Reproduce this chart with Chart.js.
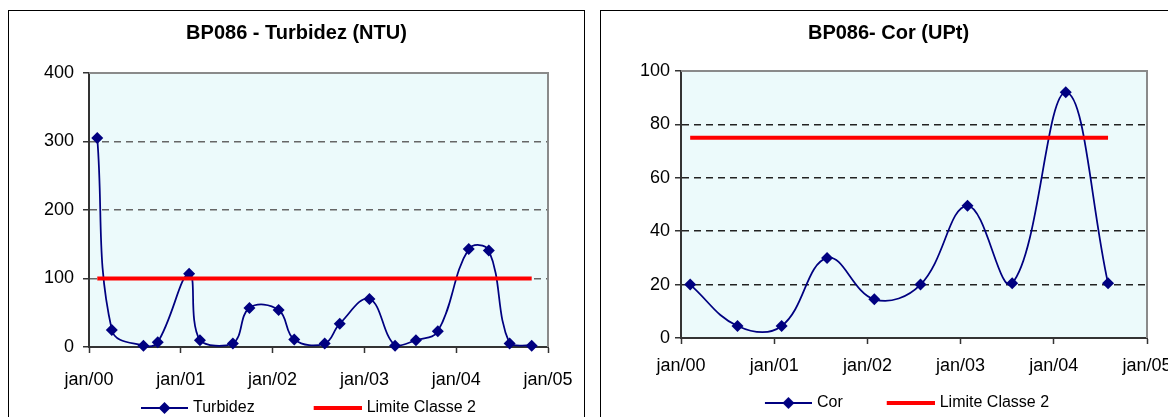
<!DOCTYPE html>
<html>
<head>
<meta charset="utf-8">
<script src="https://cdn.jsdelivr.net/npm/chart.js@4.4.1/dist/chart.umd.min.js"></script>
<style>
  html, body { margin: 0; padding: 0; background: #fff; overflow: hidden; width: 1168px; height: 417px; }
  .box { position: absolute; top: 10px; border: 1px solid #000; background: #fff; }
  .box canvas { display: block; }
</style>
</head>
<body>
<div class="box" style="left:8px; width:575px; height:420px;">
  <canvas id="chartTurbidez" width="575" height="415" style="width:575px;height:415px;"></canvas>
</div>
<div class="box" style="left:600px; width:575px; height:420px;">
  <canvas id="chartCor" width="575" height="410" style="width:575px;height:410px;"></canvas>
</div>
<script>
// dados - turbidez
const turbDates = ["2000-02-03", "2000-04-01", "2000-08-05", "2000-10-01", "2001-02-03", "2001-03-18",
    "2001-07-27", "2001-10-01", "2002-01-25", "2002-03-28", "2002-07-27", "2002-09-25",
    "2003-01-21", "2003-05-03", "2003-07-25", "2003-10-20", "2004-02-20", "2004-05-10",
    "2004-08-01", "2004-10-28"];
const turbValues = [305, 25, 2, 7, 107, 10, 5, 57, 54, 11, 5, 34, 70, 2, 10, 23, 143, 141, 5, 2];
const turbLimit = 100;
const turbTicks = [0, 100, 200, 300, 400];

// dados - cor
const corDates = ["2000-02-06", "2000-08-10", "2001-01-30", "2001-07-27", "2002-01-28",
    "2002-07-28", "2003-01-28", "2003-07-22", "2004-02-17", "2004-08-01"];
const corValues = [20, 4.5, 4.5, 30, 14.5, 20, 49.5, 20.5, 92, 20.5];
const corLimit = 75;
const corTicks = [0, 20, 40, 60, 80, 100];

const yearTicks = [2000, 2001, 2002, 2003, 2004, 2005];

Chart.defaults.font.family = 'Arial, "Liberation Sans", sans-serif';
Chart.defaults.color = "#000";

// data -> ano decimal
function toYear(s) {
    const p = s.split("-").map(Number);
    const start = Date.UTC(p[0], 0, 1);
    const end = Date.UTC(p[0] + 1, 0, 1);
    return p[0] + (Date.UTC(p[0], p[1] - 1, p[2]) - start) / (end - start);
}

// icone da legenda (linha + losango ou linha vermelha)
// a imagem passa 3px da caixa para ficar mais perto do texto
function legendIcon(kind, boxW) {
    const w = boxW + 6;
    const c = document.createElement("canvas");
    c.width = w;
    c.height = 14;
    const g = c.getContext("2d");
    if (kind === "serie") {
        g.strokeStyle = "#000080";
        g.lineWidth = 2;
        g.beginPath();
        g.moveTo(w - 47, 7);
        g.lineTo(w, 7);
        g.stroke();
        const cx = w - 23.5;
        g.fillStyle = "#000080";
        g.beginPath();
        g.moveTo(cx, 1);
        g.lineTo(cx + 6, 7);
        g.lineTo(cx, 13);
        g.lineTo(cx - 6, 7);
        g.closePath();
        g.fill();
    } else {
        g.strokeStyle = "#ff0000";
        g.lineWidth = 4;
        g.beginPath();
        g.moveTo(w - 48, 7);
        g.lineTo(w, 7);
        g.stroke();
    }
    return c;
}

// fundo e moldura da area do grafico
const plotFrame = {
    id: "plotFrame",
    afterLayout(chart, args, opts) {
        // desloca a legenda (negativo = esquerda)
        if (chart.legend && chart.legend.lineWidths) {
            chart.legend.lineWidths[0] -= 2 * (opts.legendShift || 0);
        }
    },
    beforeDraw(chart) {
        const a = chart.chartArea;
        const ctx = chart.ctx;
        ctx.save();
        ctx.fillStyle = "#ecfafb";
        ctx.fillRect(a.left, a.top, a.right - a.left, a.bottom - a.top);
        ctx.restore();
    },
    beforeDatasetsDraw(chart) {
        const a = chart.chartArea;
        const ctx = chart.ctx;
        ctx.save();
        ctx.strokeStyle = "#8a8a8a";
        ctx.lineWidth = 2;
        ctx.beginPath();
        ctx.moveTo(a.left, a.top);
        ctx.lineTo(a.right, a.top);
        ctx.lineTo(a.right, a.bottom);
        ctx.stroke();
        ctx.restore();
    },
};

function makeChart(id, o) {
    const points = o.dates.map((d, i) => ({ x: toYear(d), y: o.values[i] }));
    const x0 = toYear(o.dates[0]);
    const x1 = toYear(o.dates[o.dates.length - 1]);
    const ctx = document.getElementById(id).getContext("2d");
    return new Chart(ctx, {
        type: "line",
        data: {
            datasets: [
                {
                    label: o.name,
                    data: points,
                    borderColor: "#000080",
                    backgroundColor: "#000080",
                    borderWidth: 1.75,
                    pointStyle: "rectRot",
                    pointRadius: 6,
                    pointBackgroundColor: "#000080",
                    pointBorderColor: "#000080",
                    pointBorderWidth: 0,
                    tension: 0.4,
                    clip: false,
                    order: 2,
                },
                {
                    label: "Limite Classe 2",
                    data: [{ x: x0, y: o.limit }, { x: x1, y: o.limit }],
                    borderColor: "#ff0000",
                    backgroundColor: "#ff0000",
                    borderWidth: 4,
                    pointRadius: 0,
                    order: 1,
                },
            ],
        },
        options: {
            responsive: false,
            animation: false,
            layout: { padding: 0, autoPadding: false },
            plugins: {
                tooltip: { enabled: false },
                plotFrame: { legendShift: o.legendShift },
                title: {
                    display: true,
                    text: o.title,
                    font: { size: 20, weight: "bold" },
                    padding: { top: 10, bottom: o.titleGap },
                },
                legend: {
                    position: "bottom",
                    labels: {
                        usePointStyle: true,
                        pointStyleWidth: o.iconW,
                        padding: 10,
                        font: { size: 16 },
                        generateLabels: () => [
                            { text: o.name, pointStyle: legendIcon("serie", o.iconW), fillStyle: "#000080", strokeStyle: "#000080", lineWidth: 0, datasetIndex: 0 },
                            { text: "Limite Classe 2", pointStyle: legendIcon("limite", o.iconW), fillStyle: "#ff0000", strokeStyle: "#ff0000", lineWidth: 0, datasetIndex: 1 },
                        ],
                    },
                },
            },
            scales: {
                x: {
                    type: "linear",
                    min: yearTicks[0],
                    max: yearTicks[yearTicks.length - 1],
                    afterBuildTicks: (axis) => { axis.ticks = yearTicks.map((v) => ({ value: v })); },
                    afterFit: (axis) => {
                        axis.height = o.xHeight;
                        axis.paddingLeft = 0;
                        axis.paddingRight = o.rightGap; // margem direita da area
                    },
                    ticks: {
                        font: { size: 18 },
                        padding: o.xPad,
                        maxRotation: 0,
                        autoSkip: false,
                        callback: (v) => "jan/" + String(v).slice(2),
                    },
                    grid: { drawOnChartArea: false, drawTicks: true, tickLength: 6, tickColor: "#333", tickWidth: 1.5 },
                    border: { display: true, color: "#333", width: 2 },
                },
                y: {
                    min: o.ticks[0],
                    max: o.ticks[o.ticks.length - 1],
                    afterBuildTicks: (axis) => { axis.ticks = o.ticks.map((v) => ({ value: v })); },
                    afterFit: (axis) => { axis.width = 80; },
                    ticks: { font: { size: 18 }, padding: o.yPad },
                    grid: {
                        color: (c) => (c.tick && c.tick.value > o.ticks[0] && c.tick.value < o.ticks[o.ticks.length - 1] ? o.gridColor : "rgba(0,0,0,0)"),
                        lineWidth: 1.5,
                        tickLength: 6,
                        tickColor: "#333",
                        tickWidth: 1.5,
                    },
                    border: { display: true, color: "#333", width: 2, dash: [7, 5] },
                },
            },
        },
        plugins: [plotFrame],
    });
}

// grafico turbidez
const chartTurbidez = makeChart("chartTurbidez", {
    title: "BP086 - Turbidez (NTU)",
    name: "Turbidez",
    dates: turbDates,
    values: turbValues,
    limit: turbLimit,
    ticks: turbTicks,
    titleGap: 28,
    xHeight: 43,
    xPad: 16,
    yPad: 9,
    rightGap: 36,
    iconW: 94,
    legendShift: -13,
    gridColor: "#666",
});

// grafico cor
const chartCor = makeChart("chartCor", {
    title: "BP086- Cor (UPt)",
    name: "Cor",
    dates: corDates,
    values: corValues,
    limit: corLimit,
    ticks: corTicks,
    titleGap: 26,
    xHeight: 47,
    xPad: 11,
    yPad: 5,
    rightGap: 29,
    iconW: 79,
    legendShift: 1,
    gridColor: "#222",
});
</script>
</body>
</html>
